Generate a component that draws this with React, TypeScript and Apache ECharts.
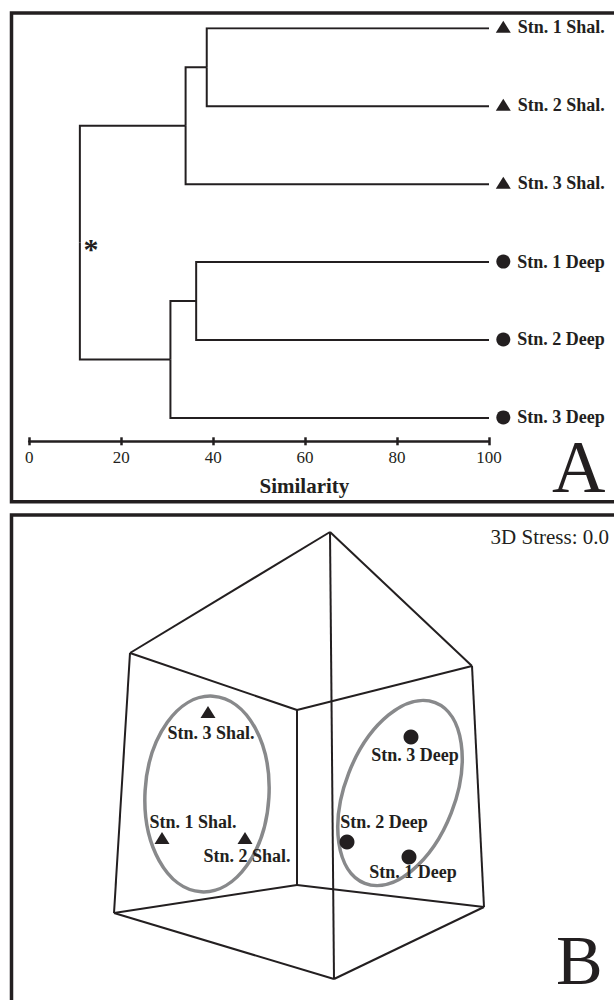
import React, { useEffect, useRef } from 'react';
import * as echarts from 'echarts';

const INK = '#231f20';
const GREY = '#88898b';
const FONT = "'Liberation Serif', 'Times New Roman', Times, serif";

// ---------- Panel A: cluster dendrogram ----------
const leafNames = ['Stn. 1 Shal.', 'Stn. 2 Shal.', 'Stn. 3 Shal.', 'Stn. 1 Deep', 'Stn. 2 Deep', 'Stn. 3 Deep'];
const leafSymbols = ['triangle', 'triangle', 'triangle', 'circle', 'circle', 'circle'];
// merge k joins mergeLeft[k] and mergeRight[k] (L = leaf index, N = earlier merge)
const mergeLeft = ['L0', 'N0', 'L3', 'N2', 'N1'];
const mergeRight = ['L1', 'L2', 'L4', 'L5', 'N3'];
const mergeSimilarity = [38.6, 34.0, 36.3, 30.7, 11.0];
const similarityTicks = [0, 20, 40, 60, 80, 100];

// ---------- Panel B: 3D MDS ordination ----------
const mdsNames = ['Stn. 1 Shal.', 'Stn. 2 Shal.', 'Stn. 3 Shal.', 'Stn. 1 Deep', 'Stn. 2 Deep', 'Stn. 3 Deep'];
const mdsSymbols = ['triangle', 'triangle', 'triangle', 'circle', 'circle', 'circle'];
const mdsX = [-1.52, -0.69, -1.06, 0.95, 0.33, 0.97];
const mdsY = [-0.83, -0.83, 0.43, -1.02, -0.87, 0.18];
const boxVertexX = [0.16, -1.84, 1.58, -0.17, -0.17, -2.0, 1.7, 0.2];
const boxVertexY = [2.23, 1.02, 0.89, 0.45, -1.3, -1.58, -1.52, -2.24];
const boxEdges = [[0, 1], [0, 2], [0, 7], [1, 3], [2, 3], [3, 4], [1, 5], [2, 6], [4, 5], [4, 6], [5, 7], [6, 7]];
const groupEllipseCX = [-1.07, 0.86];
const groupEllipseCY = [-0.39, -0.38];
const groupEllipseRX = [0.62, 0.55];
const groupEllipseRY = [0.98, 0.97];
const groupEllipseTilt = [3.4, 21.3];
const stressText = '3D Stress: 0.0';

// label placement (pixels) for the ordination points
const mdsLabelOffsets = [[31, -16], [2, 18], [3, 21], [4, 15], [37, -20], [4, 18]];

function buildDendrogram() {
  const pos: Record<string, { x: number; y: number }> = {};
  leafNames.forEach((_, i) => {
    pos['L' + i] = { x: 100, y: i };
  });
  const links: any[] = [];
  mergeSimilarity.forEach((s, k) => {
    const a = pos[mergeLeft[k]];
    const b = pos[mergeRight[k]];
    const node = { x: s, y: (a.y + b.y) / 2 };
    pos['N' + k] = node;
    links.push({ coords: [[a.x, a.y], [s, a.y], [s, node.y]] });
    links.push({ coords: [[b.x, b.y], [s, b.y], [s, node.y]] });
  });
  return links;
}

function textEl(text: string, x: number, y: number, size: number, weight: string, align: string, lineHeight?: number) {
  const style: any = {
    text,
    fill: INK,
    fontSize: size,
    fontFamily: FONT,
    fontWeight: weight,
    align,
    textAlign: align,
    verticalAlign: 'middle',
    textVerticalAlign: 'middle',
  };
  if (lineHeight) style.lineHeight = lineHeight;
  return { type: 'text', x, y, z: 50, silent: true, style };
}

export default function App() {
  const ref = useRef<HTMLDivElement>(null);

  useEffect(() => {
    if (!ref.current) return;
    const chart = echarts.init(ref.current, null, { renderer: 'svg' });
    const tickMin = similarityTicks[0];
    const tickMax = similarityTicks[similarityTicks.length - 1];
    const tickStep = similarityTicks[1] - similarityTicks[0];

    const option: any = {
      animation: false,
      backgroundColor: '#ffffff',
      textStyle: { fontFamily: FONT, color: INK },
      grid: [
        { left: 29.3, top: 28.3, width: 459.7, height: 413, containLabel: false, outerBoundsMode: 'none' },
        { left: 14, top: 515, width: 600, height: 480, containLabel: false, outerBoundsMode: 'none' },
      ],
      xAxis: [
        {
          gridIndex: 0,
          type: 'value',
          position: 'bottom',
          min: tickMin,
          max: tickMax,
          interval: tickStep,
          axisLine: { show: true, onZero: false, lineStyle: { color: INK, width: 2.5 } },
          axisTick: { show: true, inside: false, length: 4, lineStyle: { color: INK, width: 2.5 } },
          axisLabel: { show: true, margin: 8, fontSize: 17, color: INK, fontFamily: FONT },
          splitLine: { show: false },
        },
        {
          gridIndex: 0,
          type: 'value',
          position: 'bottom',
          min: tickMin,
          max: tickMax,
          interval: tickStep,
          axisLine: { show: false, onZero: false },
          axisTick: { show: true, inside: true, length: 4, lineStyle: { color: INK, width: 2.5 } },
          axisLabel: { show: false },
          splitLine: { show: false },
        },
        { gridIndex: 1, type: 'value', min: -3, max: 3, show: false },
      ],
      yAxis: [
        { gridIndex: 0, type: 'value', min: 0, max: 5.3, inverse: true, show: false },
        { gridIndex: 1, type: 'value', min: -2.4, max: 2.4, show: false },
      ],
      series: [
        {
          type: 'lines',
          coordinateSystem: 'cartesian2d',
          xAxisIndex: 0,
          yAxisIndex: 0,
          polyline: true,
          silent: true,
          lineStyle: { color: INK, width: 2, opacity: 1, curveness: 0 },
          data: buildDendrogram(),
        },
        {
          type: 'scatter',
          xAxisIndex: 0,
          yAxisIndex: 0,
          silent: true,
          z: 5,
          itemStyle: { color: INK, opacity: 1 },
          label: {
            show: true,
            position: 'right',
            distance: 7,
            formatter: '{b}',
            fontSize: 18,
            fontWeight: 'bold',
            fontFamily: FONT,
            color: INK,
          },
          data: leafNames.map((n, i) => ({
            name: n,
            value: [100, i],
            symbol: leafSymbols[i],
            symbolSize: leafSymbols[i] === 'triangle' ? [15, 12] : 14,
            symbolOffset: [14.3, leafSymbols[i] === 'triangle' ? -1.5 : -0.5],
          })),
        },
        {
          type: 'custom',
          coordinateSystem: 'cartesian2d',
          xAxisIndex: 2,
          yAxisIndex: 1,
          silent: true,
          z: 2,
          renderItem: (params: any, api: any) => {
            const c = api.coord([api.value(0), api.value(1)]);
            const s = api.size([api.value(2), api.value(3)]);
            return {
              type: 'ellipse',
              x: c[0],
              y: c[1],
              rotation: (-api.value(4) * Math.PI) / 180,
              shape: { cx: 0, cy: 0, rx: s[0], ry: s[1] },
              style: { fill: 'none', stroke: GREY, lineWidth: 3.5 },
            };
          },
          data: groupEllipseCX.map((cx, i) => [cx, groupEllipseCY[i], groupEllipseRX[i], groupEllipseRY[i], groupEllipseTilt[i]]),
        },
        {
          type: 'lines',
          coordinateSystem: 'cartesian2d',
          xAxisIndex: 2,
          yAxisIndex: 1,
          silent: true,
          z: 3,
          lineStyle: { color: INK, width: 2, opacity: 1, curveness: 0 },
          data: boxEdges.map(([a, b]) => ({
            coords: [[boxVertexX[a], boxVertexY[a]], [boxVertexX[b], boxVertexY[b]]],
          })),
        },
        {
          type: 'scatter',
          xAxisIndex: 2,
          yAxisIndex: 1,
          silent: true,
          z: 6,
          itemStyle: { color: INK, opacity: 1 },
          label: {
            show: true,
            position: 'inside',
            formatter: '{b}',
            fontSize: 18,
            fontWeight: 'bold',
            fontFamily: FONT,
            color: INK,
            textBorderWidth: 0,
          },
          data: mdsNames.map((n, i) => ({
            name: n,
            value: [mdsX[i], mdsY[i]],
            symbol: mdsSymbols[i],
            symbolSize: mdsSymbols[i] === 'triangle' ? [15, 12] : 15,
            label: { offset: mdsLabelOffsets[i] },
          })),
        },
      ],
      graphic: {
        elements: [
          {
            type: 'rect',
            z: 60,
            silent: true,
            shape: { x: 11.5, y: 13, width: 640, height: 488.7 },
            style: { fill: 'none', stroke: INK, lineWidth: 3.5 },
          },
          {
            type: 'rect',
            z: 60,
            silent: true,
            shape: { x: 11.5, y: 515, width: 640, height: 520 },
            style: { fill: 'none', stroke: INK, lineWidth: 3.5 },
          },
          textEl('*', 91, 248, 30, 'bold', 'center'),
          textEl('Similarity', 259.5, 486, 21, 'bold', 'left'),
          textEl('A', 552, 467.3, 74, 'normal', 'left', 56),
          textEl('B', 556, 960, 70, 'normal', 'left', 54),
          textEl(stressText, 609, 537.3, 21, 'normal', 'right'),
        ],
      },
    };

    chart.setOption(option);
    return () => chart.dispose();
  }, []);

  return (
    <div
      ref={ref}
      style={{ position: 'fixed', left: 0, top: 0, width: 614, height: 1000, background: '#fff' }}
    />
  );
}
